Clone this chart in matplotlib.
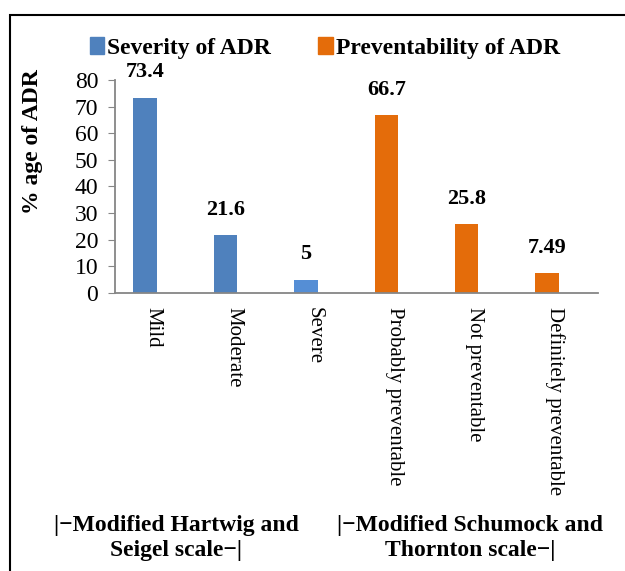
import numpy as np
import matplotlib
matplotlib.use("Agg")
import matplotlib.pyplot as plt
import matplotlib.transforms as mtransforms
from matplotlib.patches import Rectangle, Patch

plt.rcParams["font.family"] = ["Liberation Serif", "DejaVu Serif"]

categories = ["Mild", "Moderate", "Severe",
              "Probably preventable", "Not preventable", "Definitely preventable"]
values = [73.4, 21.6, 5, 66.7, 25.8, 7.49]
value_labels = ["73.4", "21.6", "5", "66.7", "25.8", "7.49"]
series_names = ["Severity of ADR", "Preventability of ADR"]
group_labels = ["|\u2212Modified Hartwig and\nSeigel scale\u2212|",
                "|\u2212Modified Schumock and\nThornton scale\u2212|"]
yticks = [0, 10, 20, 30, 40, 50, 60, 70, 80]

blue = "#4F81BD"
blue_light = "#558ED5"
orange = "#E46C0A"
bar_colors = [blue, blue, blue_light, orange, orange, orange]

fig = plt.figure(figsize=(6.25, 5.71), dpi=100)
ax = fig.add_axes([0.184, 0.487, 0.773, 0.373])

x = np.arange(len(categories))
ax.bar(x, values, width=0.29, color=bar_colors)

for xi, v, lab in zip(x, values, value_labels):
    ax.annotate(lab, (xi, v), xytext=(0, 11), textcoords="offset points",
                ha="center", va="bottom", fontsize=16, fontweight="bold")

# first bar sits closer to the y axis than the last one to the axis end
ax.set_xlim(-0.373, 5.634)
ax.set_ylim(0, 80)
ax.set_yticks(yticks)
ax.tick_params(axis="y", labelsize=17, length=5, color="#868686", pad=7)
ax.set_xticks(x)
ax.set_xticklabels(categories, rotation=270, fontsize=15, va="top")
ax.tick_params(axis="x", length=0, pad=10)

# rotated labels sit a little right of the bar centres
shift = mtransforms.ScaledTranslation(8 / 100, 0, fig.dpi_scale_trans)
for lbl in ax.get_xticklabels():
    lbl.set_transform(lbl.get_transform() + shift)

for s in ["top", "right"]:
    ax.spines[s].set_visible(False)
for s in ["left", "bottom"]:
    ax.spines[s].set_color("#868686")
    ax.spines[s].set_linewidth(1.3)

ax.set_ylabel("% age of ADR", fontsize=17, fontweight="bold")
ax.yaxis.set_label_coords(-0.148, 0.71)

handles = [Patch(color=blue), Patch(color=orange)]
fig.legend(handles, series_names, loc="center", bbox_to_anchor=(0.52, 0.916),
           ncol=2, frameon=False, handlelength=0.6, handleheight=0.7,
           handletextpad=0.15, columnspacing=2.0,
           prop={"size": 17, "weight": "bold"})

fig.text(176 / 625, 1 - 538 / 571, group_labels[0], ha="center", va="center",
         fontsize=17, fontweight="bold", linespacing=1.3)
fig.text(470 / 625, 1 - 538 / 571, group_labels[1], ha="center", va="center",
         fontsize=17, fontweight="bold", linespacing=1.3)

fig.patches.append(Rectangle((10 / 625, -0.05), 1.2, 1 - 15 / 571 + 0.05,
                             transform=fig.transFigure, fill=False,
                             edgecolor="black", linewidth=1.5))

fig.savefig("out.png", dpi=100)
